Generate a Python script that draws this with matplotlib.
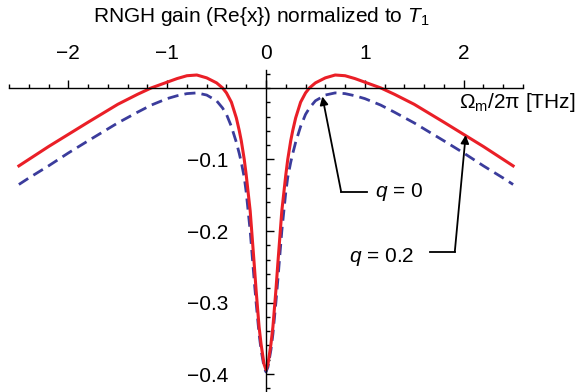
import numpy as np
import matplotlib
matplotlib.use("Agg")
import matplotlib.pyplot as plt
from matplotlib.ticker import MultipleLocator

plt.rcParams['font.family'] = ['Liberation Sans', 'DejaVu Sans']
plt.rcParams['mathtext.fontset'] = 'custom'
plt.rcParams['mathtext.rm'] = 'Liberation Sans'
plt.rcParams['mathtext.it'] = 'Liberation Sans:italic'

# values (right half, curves are symmetric in frequency)
freq_half = [0.0, 0.02, 0.05, 0.07, 0.1, 0.12, 0.16, 0.2, 0.22, 0.25, 0.27, 0.3,
             0.35, 0.4, 0.44, 0.5, 0.6, 0.7, 0.8, 0.9, 1.0, 1.16, 1.3, 1.5,
             1.62, 1.8, 2.0, 2.2, 2.4, 2.5]
gain_q02 = [-0.394, -0.386, -0.358, -0.334, -0.283, -0.245, -0.172, -0.122, -0.10,
            -0.074, -0.06, -0.042, -0.02, -0.007, 0.0, 0.007, 0.014, 0.018, 0.017,
            0.013, 0.008, 0.0, -0.009, -0.023, -0.033, -0.048, -0.065, -0.082,
            -0.100, -0.109]
gain_q0 = [-0.397, -0.390, -0.366, -0.344, -0.300, -0.268, -0.200, -0.146, -0.125,
           -0.104, -0.092, -0.076, -0.054, -0.037, -0.028, -0.018, -0.010, -0.007,
           -0.008, -0.011, -0.015, -0.024, -0.034, -0.049, -0.059, -0.074, -0.091,
           -0.109, -0.126, -0.135]

freq = np.concatenate([-np.array(freq_half[:0:-1]), freq_half])
red = np.concatenate([np.array(gain_q02[:0:-1]), gain_q02])
blue = np.concatenate([np.array(gain_q0[:0:-1]), gain_q0])

xticks = [-2, -1, 0, 1, 2]
xlabels = ['\u22122', '\u22121', '0', '1', '2']
yticks = [-0.4, -0.3, -0.2, -0.1]
ylabels = ['\u22120.4', '\u22120.3', '\u22120.2', '\u22120.1']

fig = plt.figure(figsize=(5.77, 3.92), dpi=100)
ax = fig.add_axes([9 / 577, 0.0, 514 / 577, 322 / 392])

ax.plot(freq, blue, color='#3b3c9c', lw=2.0, dashes=(4.0, 2.2))
ax.plot(freq, red, color='#ea1f27', lw=2.2)

ax.set_xlim(-2.6, 2.6)
ax.set_ylim(-0.425, 0.025)

# Mathematica style axes crossing at the origin
ax.spines['right'].set_visible(False)
ax.spines['bottom'].set_visible(False)
ax.spines['top'].set_position(('data', 0))
ax.spines['left'].set_position(('data', 0))
for s in ['top', 'left']:
    ax.spines[s].set_linewidth(1.0)

ax.xaxis.set_ticks_position('top')
ax.set_xticks(xticks)
ax.set_xticklabels(xlabels)
ax.xaxis.set_minor_locator(MultipleLocator(0.2))
ax.tick_params(axis='x', which='major', direction='out', length=6, width=1,
               pad=12, labelsize=15)
ax.tick_params(axis='x', which='minor', direction='out', length=3, width=1)

ax.set_yticks(yticks)
ax.set_yticklabels(ylabels)
ax.yaxis.set_minor_locator(MultipleLocator(0.02))
ax.tick_params(axis='y', which='major', direction='in', length=6, width=1,
               pad=27, labelsize=15)
ax.tick_params(axis='y', which='minor', direction='in', length=3, width=1)

fig.text(261 / 577, 1 - 17 / 392, 'RNGH gain (Re{x}) normalized to $T_1$',
         ha='center', va='center', fontsize=15)
fig.text(575 / 577, 1 - 102 / 392, r'$\mathrm{\Omega_m/2\pi}$ [THz]',
         ha='right', va='center', fontsize=15)

# annotation for q = 0
ax.annotate('', xy=(0.57, -0.012), xytext=(0.76, -0.145),
            arrowprops=dict(arrowstyle='-|>', color='black', lw=1.3,
                            mutation_scale=12, shrinkA=0, shrinkB=0))
ax.plot([0.76, 1.02], [-0.145, -0.145], color='black', lw=1.3)
ax.text(1.10, -0.145, '$q$ = 0', ha='left', va='center', fontsize=15)

# annotation for q = 0.2
ax.annotate('', xy=(2.02, -0.066), xytext=(1.91, -0.229),
            arrowprops=dict(arrowstyle='-|>', color='black', lw=1.3,
                            mutation_scale=12, shrinkA=0, shrinkB=0))
ax.plot([1.66, 1.91], [-0.229, -0.229], color='black', lw=1.3)
ax.text(1.50, -0.236, '$q$ = 0.2', ha='right', va='center', fontsize=15)

fig.savefig('out.png', dpi=100)
